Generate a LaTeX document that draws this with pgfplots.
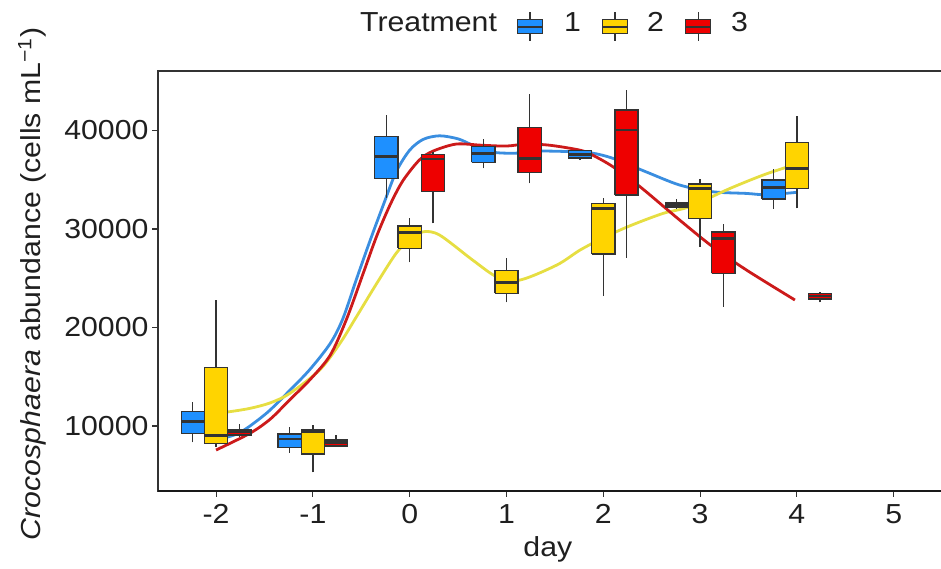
\documentclass[border=0pt]{standalone}
\usepackage{fontspec}
\setmainfont{Liberation Sans}[FakeStretch=1.1]
\usepackage{pgfplots}
\pgfplotsset{compat=1.18}

\definecolor{boxblue}{HTML}{1E90FF}
\definecolor{boxgold}{HTML}{FFD400}
\definecolor{boxred}{HTML}{EE0000}
\definecolor{lineblue}{HTML}{3A8EE0}
\definecolor{linegold}{HTML}{E6DE42}
\definecolor{linered}{HTML}{CC1A1A}
\definecolor{edge}{HTML}{333333}

% loess trends per treatment
\pgfplotstableread{
day   val
-2.00  8600
-1.76  9300
-1.48 11290
-1.24 13600
-1.03 15750
-0.82 18390
-0.69 20900
-0.55 24900
-0.41 28800
-0.27 32500
-0.14 35800
 0.00 38000
 0.14 39100
 0.31 39460
 0.50 39150
 0.65 38520
 0.86 37800
 1.10 37700
 1.34 37910
 1.69 37840
 1.89 37700
 2.10 37170
 2.44 35810
 2.79 34460
 3.13 33780
 3.48 33610
 3.68 33480
 4.00 33720
}\smoothA
\pgfplotstableread{
day   val
-2.00 11300
-1.86 11450
-1.65 11790
-1.44 12350
-1.24 13300
-0.93 15680
-0.72 18390
-0.55 21090
-0.34 24480
-0.14 27530
 0.00 28950
 0.14 29720
 0.31 29380
 0.65 26850
 0.90 25150
 1.14 24820
 1.52 26340
 1.76 27860
 2.00 29100
 2.27 30300
 2.62 31590
 2.89 32260
 3.31 34120
 3.65 35470
 3.89 36260
 4.00 36600
}\smoothB
\pgfplotstableread{
day   val
-2.00  7560
-1.65  9260
-1.44 10700
-1.24 12650
-1.03 14700
-0.82 17200
-0.65 20900
-0.48 25500
-0.34 29300
-0.20 32500
-0.07 34900
 0.10 37000
 0.24 37900
 0.48 38620
 0.75 38500
 1.00 38420
 1.20 38620
 1.45 38500
 1.76 38000
 1.89 37500
 2.10 36320
 2.38 34290
 2.79 30900
 3.13 28200
 3.48 25830
 3.98 22790
}\smoothC

% \bx{position}{lower whisker}{lower quartile}{median}{upper quartile}{upper whisker}{fill}
\newcommand\bx[7]{%
  \pgfmathsetmacro\xa{#1-0.12}%
  \pgfmathsetmacro\xb{#1+0.12}%
  \edef\drawbox{%
    \noexpand\addplot[edge, line width=1.3bp] coordinates {(#1,#2) (#1,#3)};
    \noexpand\addplot[edge, line width=1.3bp] coordinates {(#1,#5) (#1,#6)};
    \noexpand\addplot[draw=edge, fill=#7, line width=1.3bp] coordinates
      {(\xa,#3) (\xb,#3) (\xb,#5) (\xa,#5) (\xa,#3)};
    \noexpand\addplot[edge, line width=2.8bp] coordinates {(\xa,#4) (\xb,#4)};
  }\drawbox
}

\newcommand\keyicon[2]{%
  \draw[line width=1.2bp, edge] (#1bp,528bp) -- (#1bp,556.5bp);
  \filldraw[fill=#2, draw=edge, line width=1.2bp] (#1bp-12.5bp,535.2bp) rectangle (#1bp+12.5bp,549.4bp);
  \draw[line width=1.8bp, edge] (#1bp-12.5bp,542.3bp) -- (#1bp+12.5bp,542.3bp);
}

\newcommand\bigfont{\fontsize{27.5bp}{33bp}\selectfont}

\begin{document}
\begin{tikzpicture}
\begin{axis}[
  at={(158bp,78bp)}, anchor=south west,
  scale only axis, width=786bp, height=420bp,
  xmin=-2.6, xmax=5.52, ymin=3400, ymax=46040,
  xtick={-2,-1,0,1,2,3,4,5},
  ytick={10000,20000,30000,40000},
  xtick pos=bottom, ytick pos=left,
  scaled y ticks=false,
  /pgf/number format/assume math mode=true,
  yticklabel style={/pgf/number format/fixed, /pgf/number format/1000 sep={}},
  xticklabel style={yshift=-4bp},
  tick align=outside, major tick length=6bp,
  tick style={line width=1.1bp, color=edge},
  axis line style={line width=1.1bp, color=edge},
  tick label style={font=\bigfont, text=black!88},
  label style={font=\bigfont, text=black!88},
  xlabel={day},
  ylabel={\textit{Crocosphaera} abundance (cells mL\textsuperscript{\char"2212 1})},
  xlabel style={at={(axis description cs:0.496,-0.14)}, anchor=center},
  ylabel style={at={(axis description cs:-0.1603,0.493)}, anchor=center},
  after end axis/.code={\draw[line width=2.4bp, black!90] (rel axis cs:0,0) -- (rel axis cs:1,0);},
]
\addplot[lineblue, line width=2.8bp, smooth] table[x=day, y=val] {\smoothA};
\addplot[linegold, line width=2.8bp, smooth] table[x=day, y=val] {\smoothB};
\addplot[linered, line width=2.8bp, smooth] table[x=day, y=val] {\smoothC};

% treatment 1
\bx{-2.24}{8340}{9260}{10430}{11450}{12460}{boxblue}
\bx{-1.24}{7290}{7800}{8680}{9190}{9930}{boxblue}
\bx{-0.24}{33110}{35100}{37330}{39360}{41560}{boxblue}
\bx{0.76}{36150}{36760}{37680}{38350}{39100}{boxblue}
\bx{1.76}{37000}{37200}{37535}{37940}{38050}{boxblue}
\bx{2.76}{32020}{32230}{32500}{32700}{33040}{boxblue}
\bx{3.76}{32060}{33040}{34230}{34970}{36080}{boxblue}
% treatment 2
\bx{-2}{7900}{8240}{9000}{15960}{22790}{boxgold}
\bx{-1}{5300}{7160}{9420}{9590}{10100}{boxgold}
\bx{0}{26610}{28040}{29620}{30300}{31080}{boxgold}
\bx{1}{22550}{23470}{24540}{25760}{27020}{boxgold}
\bx{2}{23190}{27460}{32090}{32560}{33110}{boxgold}
\bx{3}{28200}{31080}{34120}{34560}{35040}{boxgold}
\bx{4}{32090}{34080}{36150}{38790}{41500}{boxgold}
% treatment 3
\bx{-1.76}{8880}{9080}{9420}{9660}{10170}{boxred}
\bx{-0.76}{7900}{7970}{8300}{8580}{9080}{boxred}
\bx{0.24}{30570}{33790}{37100}{37580}{37800}{boxred}
\bx{1.24}{34630}{35710}{37130}{40280}{43670}{boxred}
\bx{2.24}{27080}{33440}{40040}{42070}{44100}{boxred}
\bx{3.24}{22110}{25500}{29050}{29690}{30470}{boxred}
\bx{4.24}{22550}{22890}{23190}{23470}{23600}{boxred}
\end{axis}

% legend
\node[anchor=base west, inner sep=0pt, font=\bigfont, text=black!88] at (360bp,537.3bp) {Treatment};
\keyicon{530}{boxblue}
\node[anchor=base west, inner sep=0pt, font=\bigfont, text=black!88] at (564bp,537.3bp) {1};
\keyicon{615}{boxgold}
\node[anchor=base west, inner sep=0pt, font=\bigfont, text=black!88] at (647bp,537.3bp) {2};
\keyicon{698.3}{boxred}
\node[anchor=base west, inner sep=0pt, font=\bigfont, text=black!88] at (731bp,537.3bp) {3};

\pgfresetboundingbox
\path[use as bounding box] (0,0) rectangle (941bp,569bp);
\end{tikzpicture}
\end{document}
